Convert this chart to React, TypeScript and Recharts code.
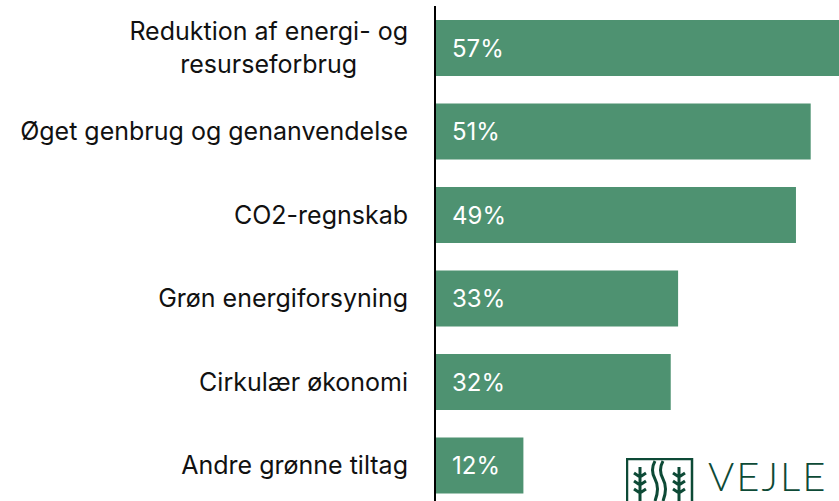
import React from 'react';
import { BarChart, Bar, XAxis, YAxis, LabelList } from 'recharts';

const categories = [
  'Reduktion af energi- og\nresurseforbrug',
  'Øget genbrug og genanvendelse',
  'CO2-regnskab',
  'Grøn energiforsyning',
  'Cirkulær økonomi',
  'Andre grønne tiltag',
];
const shares = [57, 51, 49, 33, 32, 12];

const data = categories.map((name, i) => ({ name, value: shares[i] }));

const FONT = 'Inter, Roboto, sans-serif';
const TICK_SIZE = 25;

let measureCtx: CanvasRenderingContext2D | null = null;
function textWidth(s: string) {
  if (!measureCtx) measureCtx = document.createElement('canvas').getContext('2d');
  if (!measureCtx) return s.length * 13;
  measureCtx.font = `${TICK_SIZE}px ${FONT}`;
  return measureCtx.measureText(s).width;
}

// multi-line labels are centred as a block, right edge at the tick position
function CategoryTick(props: any) {
  const { x, y, payload } = props;
  const lines = String(payload.value).split('\n');
  const lh = 33;
  const start = y - ((lines.length - 1) * lh) / 2;
  const maxW = Math.max(...lines.map(textWidth));
  const cx = x - maxW / 2;
  return (
    <text x={cx} y={start} textAnchor="middle" fill="#111" fontSize={TICK_SIZE} fontFamily={FONT}>
      {lines.map((l, i) => (
        <tspan key={i} x={cx} y={start + i * lh} dy="0.355em">
          {l}
        </tspan>
      ))}
    </text>
  );
}

function Logo() {
  const c = '#0d4a36';
  return (
    <div style={{ position: 'absolute', left: 626, top: 454, width: 213, height: 47 }}>
      <svg width={68} height={43} style={{ position: 'absolute', left: 0, top: 4 }}>
        <rect x={1} y={1} width={65} height={44} fill="none" stroke={c} strokeWidth={2.5} />
        <path d="M14 43 V9 M8 15 l6 4 l6 -4 M8 23 l6 4 l6 -4 M8 31 l6 4 l6 -4" stroke={c} strokeWidth={3} fill="none" />
        <path d="M53 43 V9 M47 15 l6 4 l6 -4 M47 23 l6 4 l6 -4 M47 31 l6 4 l6 -4" stroke={c} strokeWidth={3} fill="none" />
        <path d="M29 3 q-5 9 0 18 q5 9 0 22 M37 3 q-5 9 0 18 q5 9 0 22" stroke={c} strokeWidth={3} fill="none" />
      </svg>
      <div
        style={{
          position: 'absolute',
          left: 82,
          top: 2,
          fontFamily: 'Lato, sans-serif',
          fontWeight: 300,
          fontSize: 40,
          lineHeight: '40px',
          letterSpacing: 2,
          color: c,
        }}
      >
        VEJLE
      </div>
    </div>
  );
}

export default function App() {
  return (
    <div style={{ position: 'fixed', left: 0, top: 0, width: 839, height: 501, overflow: 'hidden', background: '#fff' }}>
      <BarChart
        width={877}
        height={510}
        data={data}
        layout="vertical"
        margin={{ top: 6, right: 0, bottom: 3, left: 0 }}
        barCategoryGap={14}
      >
        <XAxis type="number" domain={[0, 60]} hide />
        <YAxis
          type="category"
          dataKey="name"
          width={435}
          axisLine={{ stroke: '#000', strokeWidth: 2 }}
          tickLine={false}
          tick={<CategoryTick />}
          tickSize={0}
          tickMargin={27}
          interval={0}
        />
        <Bar dataKey="value" fill="#4e9271" isAnimationActive={false}>
          <LabelList
            dataKey="value"
            position="insideLeft"
            offset={17}
            formatter={(v: any) => `${v}%`}
            fill="#fff"
            fontSize={24}
            fontFamily={FONT}
          />
        </Bar>
      </BarChart>
      <Logo />
    </div>
  );
}
